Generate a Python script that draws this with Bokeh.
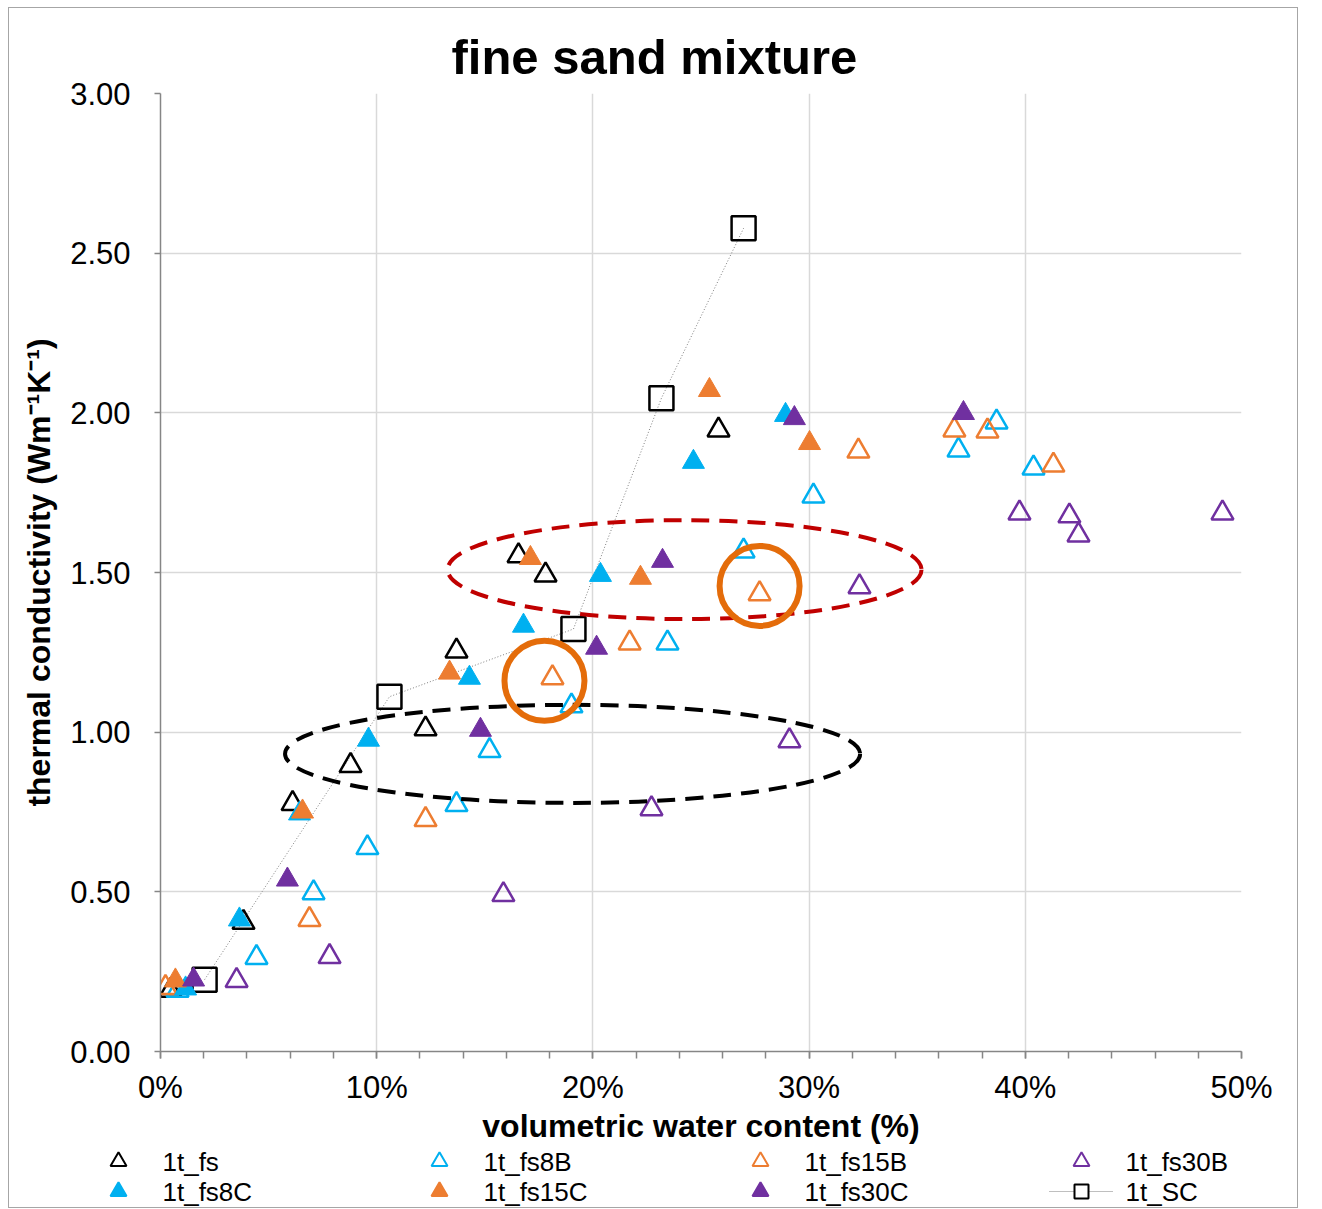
from bokeh.plotting import figure
from bokeh.layouts import column
from bokeh.models import (Range1d, FixedTicker, NumeralTickFormatter, CustomJSTickFormatter, Title)
from bokeh.embed import file_html
from bokeh.resources import INLINE
from bokeh.core.properties import value

# ---------------- data (x: volumetric water content %, y: thermal conductivity) ----------------
fs_x = [0.46, 3.84, 6.11, 8.79, 12.26, 13.69, 16.56, 17.81, 25.81]
fs_y = [0.191, 0.404, 0.776, 0.895, 1.010, 1.254, 1.552, 1.492, 1.946]

fs8B_x = [0.79, 4.44, 7.08, 9.57, 13.69, 15.22, 19.01, 23.45, 26.97, 30.20, 36.91, 38.67, 40.38]
fs8B_y = [0.191, 0.294, 0.497, 0.638, 0.773, 0.942, 1.082, 1.279, 1.567, 1.739, 1.883, 1.971, 1.827]

fs15B_x = [0.23, 6.89, 12.26, 18.13, 21.70, 27.71, 32.28, 36.72, 38.25, 41.30]
fs15B_y = [0.200, 0.413, 0.726, 1.170, 1.279, 1.433, 1.880, 1.946, 1.943, 1.836]

fs30B_x = [3.52, 7.82, 15.86, 22.71, 29.09, 32.33, 39.73, 42.04, 42.46, 49.12]
fs30B_y = [0.222, 0.297, 0.491, 0.760, 0.973, 1.455, 1.686, 1.677, 1.617, 1.686]

fs8C_x = [1.16, 3.65, 6.43, 9.62, 14.29, 16.79, 20.35, 24.65, 28.91]
fs8C_y = [0.197, 0.413, 0.745, 0.976, 1.170, 1.333, 1.492, 1.846, 1.993]

fs15C_x = [0.69, 6.57, 13.37, 17.11, 22.20, 25.39, 30.02]
fs15C_y = [0.222, 0.751, 1.186, 1.545, 1.483, 2.071, 1.905]

fs30C_x = [1.53, 5.87, 14.80, 20.17, 23.22, 29.32, 37.14]
fs30C_y = [0.225, 0.538, 1.007, 1.264, 1.536, 1.983, 1.999]

sc_x = [2.04, 10.59, 19.10, 23.17, 26.97]
sc_y = [0.225, 1.111, 1.323, 2.046, 2.578]

# annotations (dashed ellipses and highlight circles)
ell_red = dict(x=24.24, y=1.509, w=21.92, h=0.31)
ell_black = dict(x=19.06, y=0.932, w=26.6, h=0.307)
circ_x = [17.76, 27.71]
circ_y = [1.161, 1.458]

x_ticks = [0, 10, 20, 30, 40, 50]
x_minor = list(range(0, 51, 2))
y_ticks = [0.0, 0.5, 1.0, 1.5, 2.0, 2.5, 3.0]

title_text = "fine sand mixture"
x_label = "volumetric water content (%)"
y_label = "thermal conductivity (Wm\u207b\u00b9K\u207b\u00b9)"

BLACK = "#000000"
CYAN = "#00B0F0"
ORANGE = "#ED7D31"
PURPLE = "#7030A0"
FONT = "Liberation Sans"

# legend entries (row-major: 4 columns x 2 rows)
leg_labels = ["1t_fs", "1t_fs8B", "1t_fs15B", "1t_fs30B", "1t_fs8C", "1t_fs15C", "1t_fs30C", "1t_SC"]
leg_colors = [BLACK, CYAN, ORANGE, PURPLE, CYAN, ORANGE, PURPLE, BLACK]
leg_filled = [False, False, False, False, True, True, True, False]
leg_marker = ["triangle"] * 7 + ["square"]

W = 1288
p = figure(width=W, height=1138, x_range=Range1d(0, 50), y_range=Range1d(0, 3),
           output_backend="svg", toolbar_location=None,
           min_border_left=151, min_border_right=56, min_border_top=85, min_border_bottom=94)
p.frame_align = False
p.outline_line_color = None
p.background_fill_color = "white"
p.border_fill_color = "white"

p.title = Title(text=title_text, align="left", offset=291, text_font=FONT,
                text_font_size="49px", text_font_style="bold", text_color="black", standoff=20)

for ax in (p.xaxis, p.yaxis):
    ax.axis_line_color = "#868686"
    ax.axis_line_width = 1.5
    ax.major_tick_line_color = "#868686"
    ax.major_tick_line_width = 1.5
    ax.minor_tick_line_color = "#868686"
    ax.minor_tick_line_width = 1.5
    ax.major_tick_in = 0
    ax.minor_tick_in = 0
    ax.major_label_text_font = FONT
    ax.major_label_text_font_size = "31px"
    ax.major_label_text_color = "#000000"
    ax.axis_label_text_font = FONT
    ax.axis_label_text_font_style = "bold"
    ax.axis_label_text_font_size = "32px"
    ax.axis_label_text_color = "#000000"

p.xaxis.ticker = FixedTicker(ticks=x_ticks, minor_ticks=x_minor)
p.xaxis.formatter = CustomJSTickFormatter(code="return tick + '%';")
p.xaxis.major_tick_out = 7
p.xaxis.minor_tick_out = 7
p.xaxis.major_label_standoff = 11
p.xaxis.axis_label = x_label
p.xaxis.axis_label_standoff = 0

p.yaxis.ticker = FixedTicker(ticks=y_ticks, minor_ticks=[])
p.yaxis.formatter = NumeralTickFormatter(format="0.00")
p.yaxis.major_tick_out = 6
p.yaxis.minor_tick_out = 0
p.yaxis.major_label_standoff = 24
p.yaxis.axis_label = y_label
p.yaxis.axis_label_standoff = 10

p.xgrid.grid_line_color = "#D9D9D9"
p.ygrid.grid_line_color = "#D9D9D9"
p.xgrid.grid_line_width = 1.5
p.ygrid.grid_line_width = 1.5

# series
p.line(sc_x, sc_y, line_color="#7F7F7F", line_width=1, line_dash="1 2")
p.scatter(sc_x, sc_y, marker="square", size=24, fill_color=None, line_color=BLACK, line_width=2.5)

TRI = 22
p.scatter(fs_x, fs_y, marker="triangle", size=TRI, fill_color=None, line_color=BLACK, line_width=2.5)
p.scatter(fs8B_x, fs8B_y, marker="triangle", size=TRI, fill_color=None, line_color=CYAN, line_width=2.5)
p.scatter(fs15B_x, fs15B_y, marker="triangle", size=TRI, fill_color=None, line_color=ORANGE, line_width=2.5)
p.scatter(fs30B_x, fs30B_y, marker="triangle", size=TRI, fill_color=None, line_color=PURPLE, line_width=2.5)
p.scatter(fs8C_x, fs8C_y, marker="triangle", size=TRI, fill_color=CYAN, line_color=CYAN, line_width=1)
p.scatter(fs15C_x, fs15C_y, marker="triangle", size=TRI, fill_color=ORANGE, line_color=ORANGE, line_width=1)
p.scatter(fs30C_x, fs30C_y, marker="triangle", size=TRI, fill_color=PURPLE, line_color=PURPLE, line_width=1)

# annotations
p.ellipse(x=[ell_red["x"]], y=[ell_red["y"]], width=[ell_red["w"]], height=[ell_red["h"]],
          fill_color=None, line_color="#C00000", line_width=4, line_dash="18 10")
p.ellipse(x=[ell_black["x"]], y=[ell_black["y"]], width=[ell_black["w"]], height=[ell_black["h"]],
          fill_color=None, line_color=BLACK, line_width=4, line_dash="18 10")
p.circle(x=circ_x, y=circ_y, radius=40, radius_units="screen", fill_color=None,
         line_color="#E46C0A", line_width=6)

# ---------------- legend strip (separate figure in pixel coordinates) ----------------
LH = 61
leg = figure(width=W, height=LH, x_range=Range1d(0, W), y_range=Range1d(LH, 0),
             output_backend="svg", toolbar_location=None, min_border=0,
             x_axis_location=None, y_axis_location=None)
leg.frame_align = False
leg.grid.visible = False
leg.outline_line_color = None
leg.background_fill_color = "white"
leg.border_fill_color = "white"

COL0, PITCH, ROW0, ROWSTEP, TXT_OFF = 109, 321, 15, 30, 44
mx = [COL0 + PITCH * (i % 4) for i in range(len(leg_labels))]
my = [ROW0 + ROWSTEP * (i // 4) for i in range(len(leg_labels))]
for i, lab in enumerate(leg_labels):
    if leg_marker[i] == "square":
        leg.line([mx[i] - 32, mx[i] + 32], [my[i], my[i]], line_color="#7F7F7F",
                 line_width=1, line_dash="1 1")
        leg.scatter([mx[i]], [my[i]], marker="square", size=14, fill_color="white",
                    line_color=leg_colors[i], line_width=2)
    else:
        leg.scatter([mx[i]], [my[i]], marker="triangle", size=16,
                    fill_color=leg_colors[i] if leg_filled[i] else None,
                    line_color=leg_colors[i], line_width=2)
leg.text(x=[v + TXT_OFF for v in mx], y=my, text=leg_labels, text_font=value(FONT),
         text_font_size="26px", text_color="black", text_align="left", text_baseline="middle")

layout = column(p, leg, spacing=0)
layout.styles = {"border": "1px solid #A6A6A6", "margin": "7px 0px 0px 8px"}

open("out.html", "w").write(file_html(layout, INLINE))
